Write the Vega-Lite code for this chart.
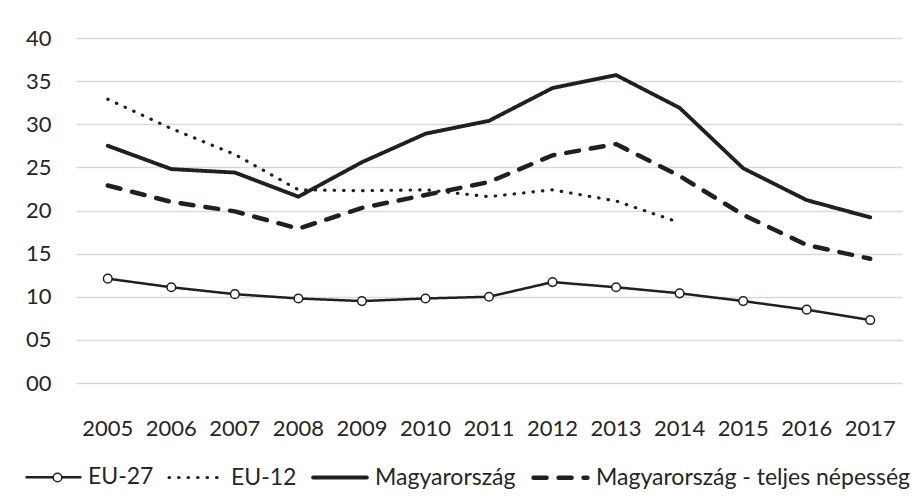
{
  "$schema": "https://vega.github.io/schema/vega-lite/v6.json",
  "width": 826,
  "height": 345,
  "autosize": {"type": "none"},
  "padding": {"left": 76, "top": 38, "right": 15, "bottom": 118},
  "background": "#ffffff",
  "config": {
    "view": {"stroke": null},
    "font": "Lato",
    "axis": {"labelFont": "Lato", "labelFontSize": 22, "labelColor": "#262626", "domain": false, "ticks": false, "title": null},
    "legend": {"labelFont": "Lato", "labelFontSize": 23, "labelColor": "#262626", "labelLimit": 500, "padding": 0}
  },
  "data": {
    "values": [
      {"year": "2005", "series": "EU-27", "value": 12.1},
      {"year": "2006", "series": "EU-27", "value": 11.1},
      {"year": "2007", "series": "EU-27", "value": 10.3},
      {"year": "2008", "series": "EU-27", "value": 9.8},
      {"year": "2009", "series": "EU-27", "value": 9.5},
      {"year": "2010", "series": "EU-27", "value": 9.8},
      {"year": "2011", "series": "EU-27", "value": 10.0},
      {"year": "2012", "series": "EU-27", "value": 11.7},
      {"year": "2013", "series": "EU-27", "value": 11.1},
      {"year": "2014", "series": "EU-27", "value": 10.4},
      {"year": "2015", "series": "EU-27", "value": 9.5},
      {"year": "2016", "series": "EU-27", "value": 8.5},
      {"year": "2017", "series": "EU-27", "value": 7.3},
      {"year": "2005", "series": "EU-12", "value": 32.9},
      {"year": "2006", "series": "EU-12", "value": 29.5},
      {"year": "2007", "series": "EU-12", "value": 26.5},
      {"year": "2008", "series": "EU-12", "value": 22.4},
      {"year": "2009", "series": "EU-12", "value": 22.3},
      {"year": "2010", "series": "EU-12", "value": 22.4},
      {"year": "2011", "series": "EU-12", "value": 21.6},
      {"year": "2012", "series": "EU-12", "value": 22.4},
      {"year": "2013", "series": "EU-12", "value": 21.1},
      {"year": "2014", "series": "EU-12", "value": 18.6},
      {"year": "2005", "series": "Magyarország", "value": 27.5},
      {"year": "2006", "series": "Magyarország", "value": 24.8},
      {"year": "2007", "series": "Magyarország", "value": 24.4},
      {"year": "2008", "series": "Magyarország", "value": 21.6},
      {"year": "2009", "series": "Magyarország", "value": 25.6},
      {"year": "2010", "series": "Magyarország", "value": 28.9},
      {"year": "2011", "series": "Magyarország", "value": 30.4},
      {"year": "2012", "series": "Magyarország", "value": 34.2},
      {"year": "2013", "series": "Magyarország", "value": 35.7},
      {"year": "2014", "series": "Magyarország", "value": 31.9},
      {"year": "2015", "series": "Magyarország", "value": 24.9},
      {"year": "2016", "series": "Magyarország", "value": 21.2},
      {"year": "2017", "series": "Magyarország", "value": 19.2},
      {"year": "2005", "series": "Magyarország - teljes népesség", "value": 22.9},
      {"year": "2006", "series": "Magyarország - teljes népesség", "value": 21.0},
      {"year": "2007", "series": "Magyarország - teljes népesség", "value": 19.9},
      {"year": "2008", "series": "Magyarország - teljes népesség", "value": 17.9},
      {"year": "2009", "series": "Magyarország - teljes népesség", "value": 20.3},
      {"year": "2010", "series": "Magyarország - teljes népesség", "value": 21.8},
      {"year": "2011", "series": "Magyarország - teljes népesség", "value": 23.3},
      {"year": "2012", "series": "Magyarország - teljes népesség", "value": 26.4},
      {"year": "2013", "series": "Magyarország - teljes népesség", "value": 27.7},
      {"year": "2014", "series": "Magyarország - teljes népesség", "value": 24.0},
      {"year": "2015", "series": "Magyarország - teljes népesség", "value": 19.5},
      {"year": "2016", "series": "Magyarország - teljes népesség", "value": 16.0},
      {"year": "2017", "series": "Magyarország - teljes népesség", "value": 14.4}
    ]
  },
  "encoding": {
    "x": {
      "field": "year", "type": "ordinal",
      "scale": {"type": "band", "paddingInner": 0, "paddingOuter": 0},
      "axis": {"labelAngle": 0, "labelPadding": 35, "grid": false}
    },
    "y": {
      "field": "value", "type": "quantitative",
      "scale": {"domain": [0, 40], "nice": false},
      "axis": {"values": [0, 5, 10, 15, 20, 25, 30, 35, 40], "format": "02d", "labelPadding": 25, "grid": true, "gridColor": "#d9d9d9", "gridWidth": 1.5}
    }
  },
  "layer": [
    {
      "mark": {"type": "line", "color": "#231f20", "strokeCap": "round", "strokeJoin": "miter"},
      "encoding": {
        "detail": {"field": "series"},
        "strokeDash": {
          "field": "series", "type": "nominal",
          "scale": {
            "domain": ["EU-27", "EU-12", "Magyarország", "Magyarország - teljes népesség"],
            "range": [[1, 0], [0.5, 9], [1, 0], [13, 12]]
          },
          "legend": {
            "title": null, "orient": "none", "legendX": -51, "legendY": 410,
            "direction": "horizontal", "symbolType": "stroke", "symbolSize": 2900,
            "symbolStrokeColor": "#231f20", "labelOffset": 6, "columnPadding": 8,
            "encoding": {"symbols": {"strokeCap": {"value": "round"}}}
          }
        },
        "strokeWidth": {
          "field": "series", "type": "nominal",
          "scale": {
            "domain": ["EU-27", "EU-12", "Magyarország", "Magyarország - teljes népesség"],
            "range": [2.5, 4.5, 4.5, 4.5]
          }
        }
      }
    },
    {
      "transform": [{"filter": "datum.series === 'EU-27'"}],
      "mark": {"type": "point", "filled": false, "color": "#231f20", "fill": "#ffffff", "fillOpacity": 1, "strokeWidth": 1.5, "size": 75, "opacity": 1},
      "encoding": {
        "shape": {
          "field": "series", "type": "ordinal",
          "scale": {"domain": ["EU-27"], "range": ["circle"]},
          "legend": {
            "title": null, "orient": "none", "legendX": -24, "legendY": 434,
            "symbolFillColor": "#ffffff", "symbolStrokeColor": "#231f20", "symbolStrokeWidth": 1.5,
            "symbolSize": 75, "labelFontSize": 1, "labelOpacity": 0, "labelOffset": 0,
            "encoding": {"symbols": {"fill": {"value": "#ffffff"}, "fillOpacity": {"value": 1}, "stroke": {"value": "#231f20"}, "strokeWidth": {"value": 1.5}, "opacity": {"value": 1}}}
          }
        }
      }
    }
  ]
}
